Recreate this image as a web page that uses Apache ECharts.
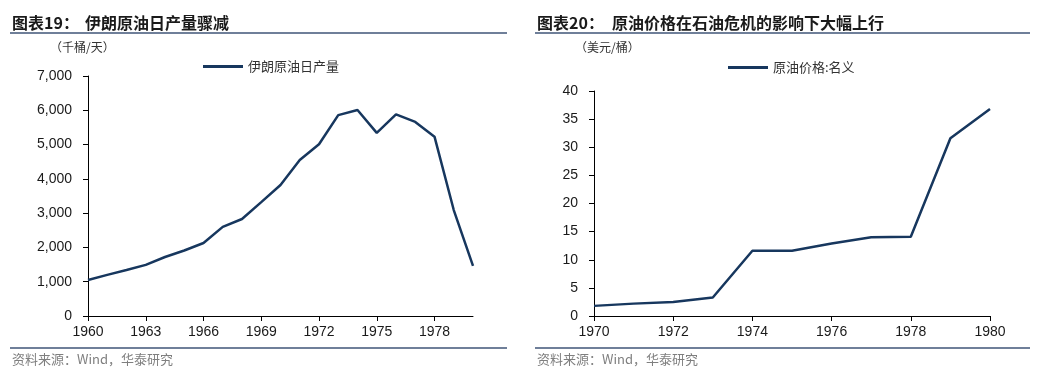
<!DOCTYPE html>
<html><head><meta charset="utf-8">
<script src="https://cdn.jsdelivr.net/npm/echarts@6/dist/echarts.min.js"></script>
<style>html,body{margin:0;padding:0;background:#fff}#c{width:1047px;height:378px}</style>
</head><body><div id="c"></div>
<script>
// Left chart: Iran crude oil daily production (thousand barrels/day)
const iranYears = ['1960','1961','1962','1963','1964','1965','1966','1967','1968','1969','1970','1971','1972','1973','1974','1975','1976','1977','1978','1979','1980'];
const iranOutput = [1050,1200,1340,1490,1720,1910,2130,2600,2830,3320,3820,4550,5010,5860,6010,5340,5880,5660,5230,3090,1460];
const iranYTicks = {min:0, max:7000, interval:1000};
// Right chart: nominal crude oil price (USD/barrel)
const priceYears = ['1970','1971','1972','1973','1974','1975','1976','1977','1978','1979','1980'];
const oilPrice = [1.8,2.2,2.5,3.3,11.6,11.6,12.9,14.0,14.1,31.6,36.8];
const priceYTicks = {min:0, max:40, interval:5};

const NAVY = '#17375e';
const CJK = '"Noto Sans CJK SC", "Liberation Sans", sans-serif';
const NUM = '"Liberation Sans", Arial, sans-serif';
const RULE = '#6f7f99';

const chart = echarts.init(document.getElementById('c'), null, {renderer:'canvas'});

function yAxisCfg(t, gi){
  return {
    type:'value', gridIndex:gi, min:t.min, max:t.max, interval:t.interval,
    axisLine:{show:true, lineStyle:{color:'#000', width:1}},
    axisTick:{show:true, length:5, lineStyle:{color:'#000'}},
    splitLine:{show:false},
    axisLabel:{color:'#1a1a1a', fontFamily:NUM, fontSize:14, margin:16,
      formatter: v => Number(v).toLocaleString('en-US')}
  };
}
function xAxisCfg(cats, gi, iv){
  return {
    type:'category', gridIndex:gi, data:cats, boundaryGap:false,
    axisLine:{show:true, lineStyle:{color:'#000', width:1}},
    axisTick:{show:true, length:5, interval:iv, lineStyle:{color:'#000'}},
    axisLabel:{color:'#1a1a1a', fontFamily:NUM, fontSize:14, margin:9, interval:iv},
    splitLine:{show:false}
  };
}

const option = {
  animation:false,
  backgroundColor:'#fff',
  grid:[
    {left:88, top:76, width:385, height:240},
    {left:594, top:91, width:396, height:225}
  ],
  xAxis:[xAxisCfg(iranYears,0,2), xAxisCfg(priceYears,1,1)],
  yAxis:[yAxisCfg(iranYTicks,0), yAxisCfg(priceYTicks,1)],
  legend:[
    {data:['伊朗原油日产量'], left:198, top:55, icon:'rect', itemWidth:40, itemHeight:3, itemGap:0,
     textStyle:{fontFamily:CJK, fontSize:13, color:'#333'}},
    {data:['原油价格:名义'], left:723, top:56, icon:'rect', itemWidth:40, itemHeight:3, itemGap:0,
     textStyle:{fontFamily:CJK, fontSize:13, color:'#333'}}
  ],
  series:[
    {name:'伊朗原油日产量', type:'line', xAxisIndex:0, yAxisIndex:0, data:iranOutput,
     showSymbol:false, lineStyle:{color:NAVY, width:2.5}, itemStyle:{color:NAVY}},
    {name:'原油价格:名义', type:'line', xAxisIndex:1, yAxisIndex:1, data:oilPrice,
     showSymbol:false, lineStyle:{color:NAVY, width:2.5}, itemStyle:{color:NAVY}}
  ],
  graphic:[
    {type:'text', left:12, top:15, style:{text:'图表19：', font:'bold 16px '+CJK, fill:'#1a1a1a'}},
    {type:'text', left:85, top:15, style:{text:'伊朗原油日产量骤减', font:'bold 16px '+CJK, fill:'#1a1a1a'}},
    {type:'text', left:537, top:15, style:{text:'图表20：', font:'bold 16px '+CJK, fill:'#1a1a1a'}},
    {type:'text', left:612, top:15, style:{text:'原油价格在石油危机的影响下大幅上行', font:'bold 16px '+CJK, fill:'#1a1a1a'}},
    {type:'rect', shape:{x:10, y:32, width:497, height:2}, style:{fill:RULE}},
    {type:'rect', shape:{x:535, y:32, width:495, height:2}, style:{fill:RULE}},
    {type:'text', left:50, top:41, style:{text:'（千桶/天）', font:'12px '+CJK, fill:'#333'}},
    {type:'text', left:575, top:41, style:{text:'（美元/桶）', font:'12px '+CJK, fill:'#333'}},
    {type:'rect', shape:{x:10, y:347, width:497, height:2}, style:{fill:RULE}},
    {type:'rect', shape:{x:535, y:347, width:495, height:2}, style:{fill:RULE}},
    {type:'text', left:12, top:353, style:{text:'资料来源：Wind，华泰研究', font:'13px '+CJK, fill:'#7f7f7f'}},
    {type:'text', left:537, top:353, style:{text:'资料来源：Wind，华泰研究', font:'13px '+CJK, fill:'#7f7f7f'}}
  ]
};
chart.setOption(option);
</script></body></html>
